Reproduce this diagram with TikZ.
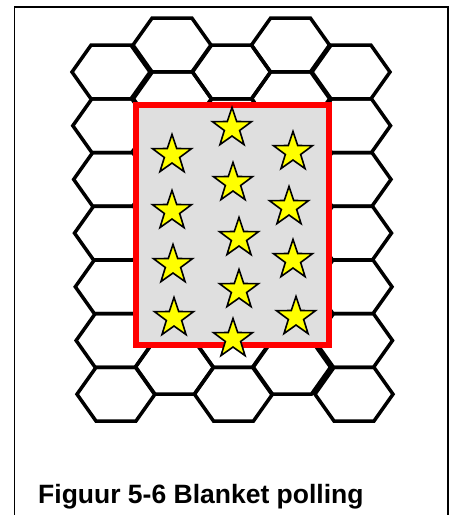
\documentclass[tikz,border=0pt]{standalone}
\usepackage{fontspec}
\setmainfont{Liberation Sans}
\usetikzlibrary{shapes.geometric}
\definecolor{areagray}{RGB}{223,223,223}
\definecolor{staryellow}{RGB}{255,255,0}
\begin{document}
\begin{tikzpicture}[x=1pt,y=-1pt,
  hexline/.style={line width=3.5pt, line join=miter, draw=black},
  hexa/.pic={\draw[hexline] (-39,0) -- (-20,-26.8) -- (20,-26.8) -- (39,0) -- (20,26.8) -- (-20,26.8) -- cycle;},
  redbox/.style={draw=red, line width=6pt, fill=areagray, inner sep=0pt},
  starnode/.style={star, star points=5, star point ratio=2.55, minimum size=41pt,
    inner sep=0pt, outer sep=0pt, draw=black, line width=1.6pt, fill=staryellow},
  frameline/.style={line width=1.5pt, draw=black},
  captionfont/.style={font=\bfseries\fontsize{26.5}{30}\selectfont, inner sep=0pt}
]
\useasboundingbox (0,0) rectangle (450,515);
% frame
\coordinate (fbl) at (14.5,515);
\coordinate (ftl) at (14.5,7);
\coordinate (ftr) at (448,7);
\coordinate (fbr) at (448,515);
\draw[frameline] (fbl) -- (ftl) -- (ftr) -- (fbr);
% hexagon grid
\foreach \cx/\dx/\cy in {111/0.83/72, 172/0.4/45, 231.5/0.33/72, 290.5/0.17/45, 351/0.5/72}{
  \foreach \k in {0,...,6}{
    \pic at ({\cx+\dx*\k},{\cy+53.7*\k}) {hexa};
  }
}
% sampling area
\node[redbox, minimum width=193pt, minimum height=239.5pt] (area) at (232.5,224.75) {};
% stars
\node[starnode] (s1) at (232,128) {};
\node[starnode] (s2) at (172,155) {};
\node[starnode] (s3) at (293,152) {};
\node[starnode] (s4) at (233,183) {};
\node[starnode] (s5) at (172,211) {};
\node[starnode] (s6) at (289,207) {};
\node[starnode] (s7) at (239,238) {};
\node[starnode] (s8) at (293,260) {};
\node[starnode] (s9) at (173,265) {};
\node[starnode] (s10) at (239,290) {};
\node[starnode] (s11) at (174,318) {};
\node[starnode] (s12) at (296,317) {};
\node[starnode] (s13) at (233,339) {};
% caption
\node[captionfont, anchor=base west] (caption) at (38,503) {Figuur 5-6 Blanket polling};
\end{tikzpicture}
\end{document}
